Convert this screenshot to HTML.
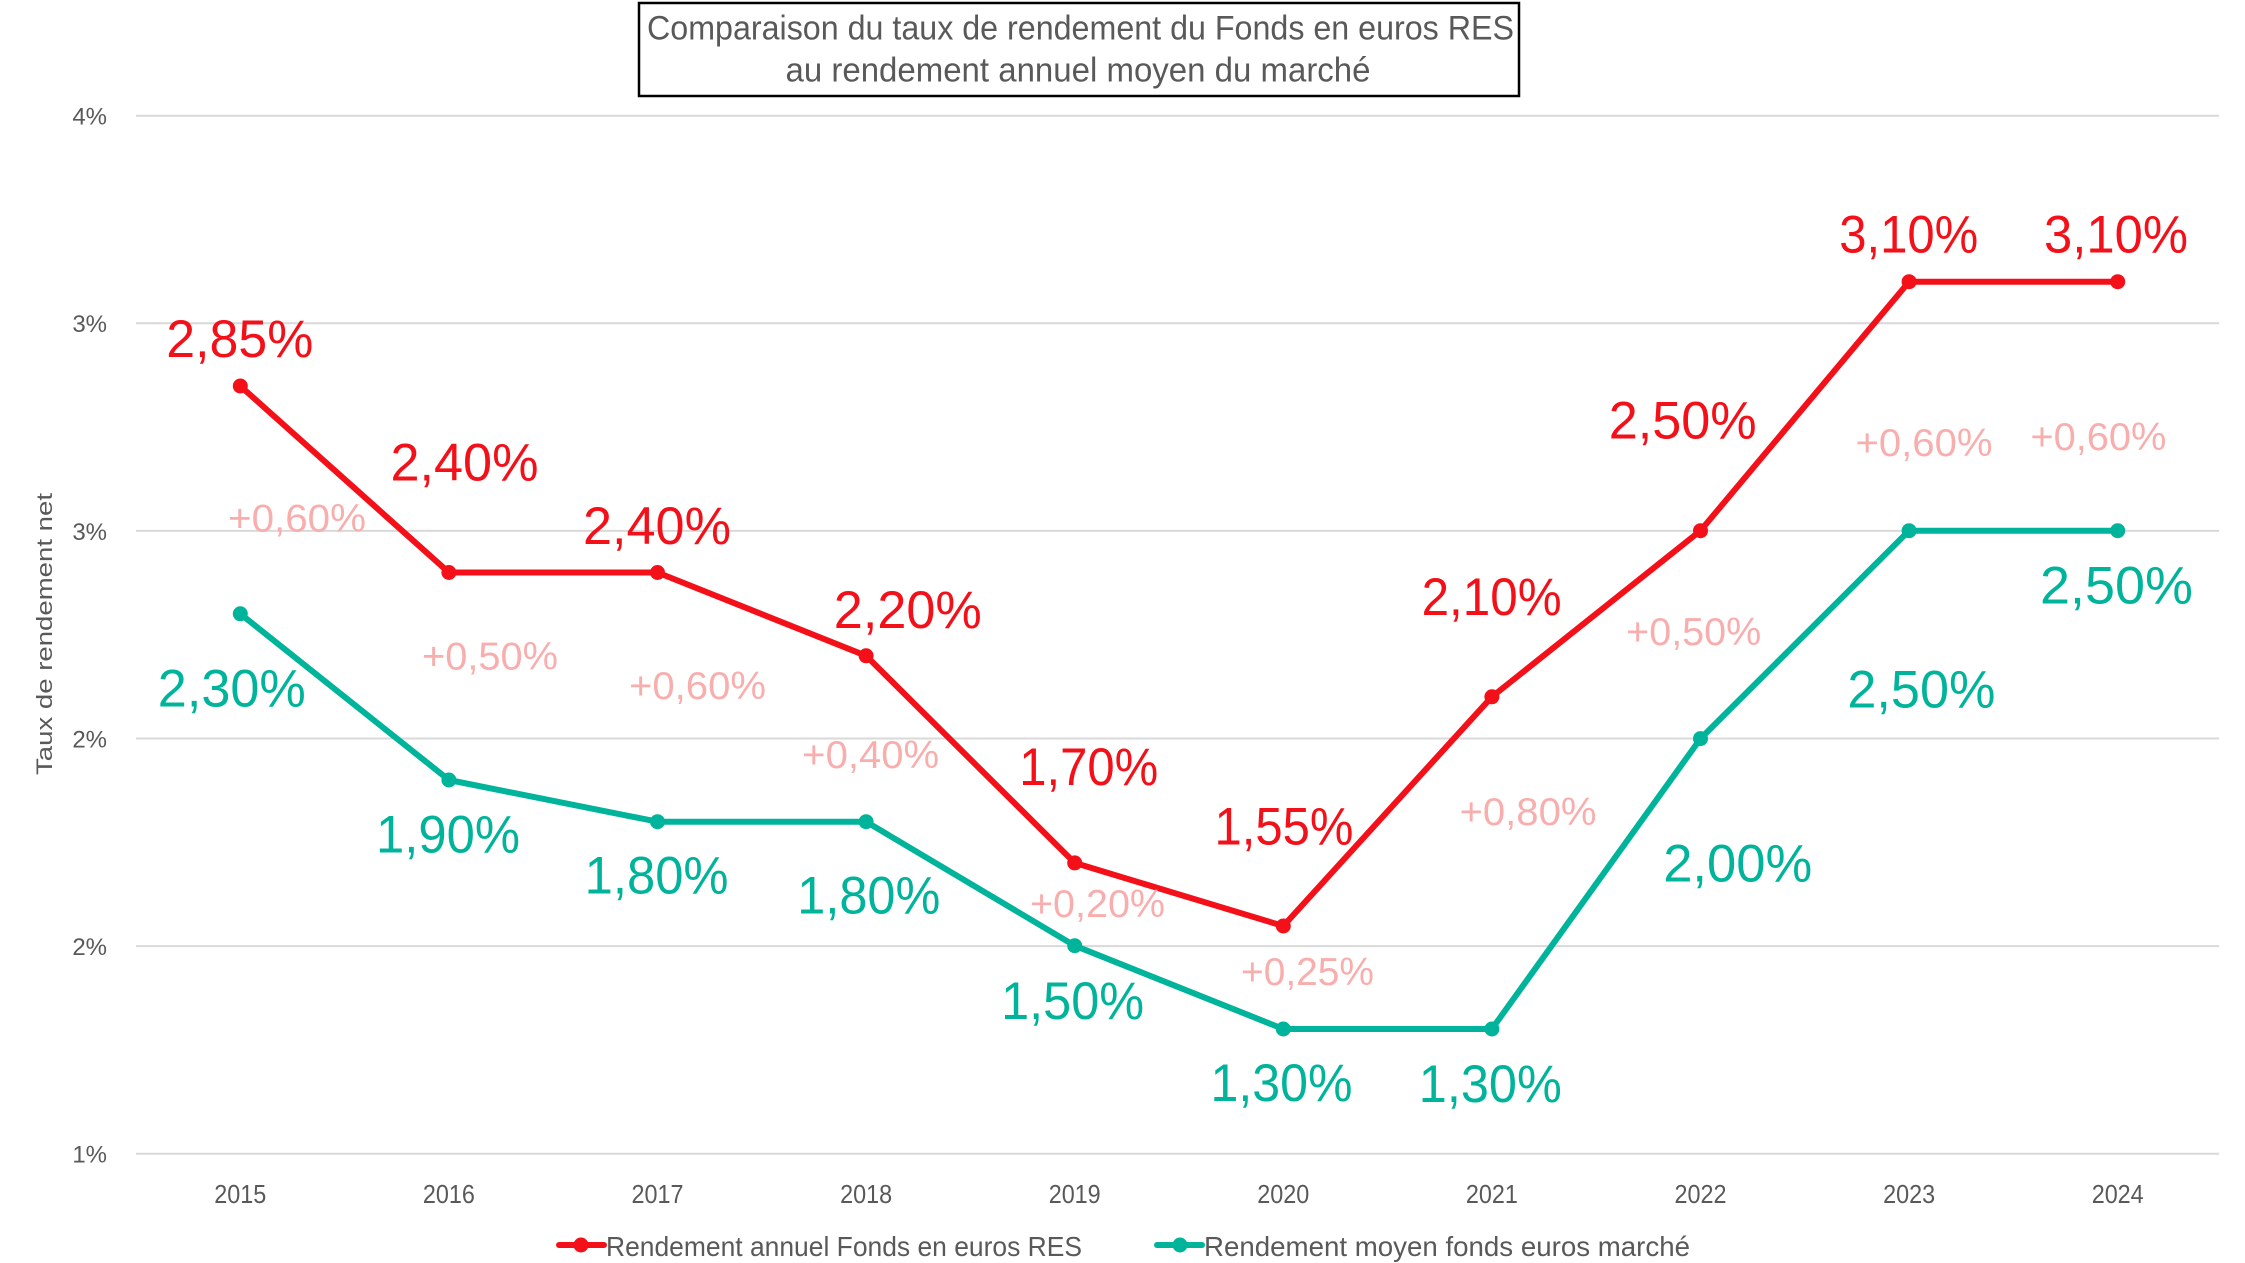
<!DOCTYPE html>
<html>
<head>
<meta charset="utf-8">
<style>
html,body{margin:0;padding:0;background:#fff;}
svg{display:block;}
text{font-family:"Liberation Sans",sans-serif;}
</style>
</head>
<body>
<svg width="2245" height="1263" viewBox="0 0 2245 1263" xmlns="http://www.w3.org/2000/svg">
<rect x="0" y="0" width="2245" height="1263" fill="#fff"/>

<!-- Title box -->
<rect x="639" y="3" width="880" height="93" fill="#fff" stroke="#000" stroke-width="2.5"/>
<text x="1080.5" y="39.5" font-size="34" fill="#595959" text-anchor="middle" textLength="867" lengthAdjust="spacingAndGlyphs">Comparaison du taux de rendement du Fonds en euros RES</text>
<text x="1078" y="81.5" font-size="34" fill="#595959" text-anchor="middle" textLength="585" lengthAdjust="spacingAndGlyphs">au rendement annuel moyen du marché</text>

<!-- Gridlines -->
<g stroke="#d9d9d9" stroke-width="2">
<line x1="136" y1="115.7" x2="2219" y2="115.7"/>
<line x1="136" y1="323.3" x2="2219" y2="323.3"/>
<line x1="136" y1="530.9" x2="2219" y2="530.9"/>
<line x1="136" y1="738.5" x2="2219" y2="738.5"/>
<line x1="136" y1="946.1" x2="2219" y2="946.1"/>
<line x1="136" y1="1153.7" x2="2219" y2="1153.7"/>
</g>

<!-- Y labels -->
<g font-size="24" fill="#595959" text-anchor="end">
<text x="107" y="124.5">4%</text>
<text x="107" y="332">3%</text>
<text x="107" y="540">3%</text>
<text x="107" y="747.5">2%</text>
<text x="107" y="955">2%</text>
<text x="107" y="1162.5">1%</text>
</g>

<!-- Y axis title -->
<text transform="translate(52,634) rotate(-90)" x="0" y="0" font-size="22" fill="#595959" text-anchor="middle" textLength="282" lengthAdjust="spacingAndGlyphs">Taux de rendement net</text>

<!-- X labels -->
<g font-size="26" fill="#595959" text-anchor="middle">
<text x="240.3" y="1203" textLength="52" lengthAdjust="spacingAndGlyphs">2015</text>
<text x="448.9" y="1203" textLength="52" lengthAdjust="spacingAndGlyphs">2016</text>
<text x="657.5" y="1203" textLength="52" lengthAdjust="spacingAndGlyphs">2017</text>
<text x="866.1" y="1203" textLength="52" lengthAdjust="spacingAndGlyphs">2018</text>
<text x="1074.7" y="1203" textLength="52" lengthAdjust="spacingAndGlyphs">2019</text>
<text x="1283.3" y="1203" textLength="52" lengthAdjust="spacingAndGlyphs">2020</text>
<text x="1491.9" y="1203" textLength="52" lengthAdjust="spacingAndGlyphs">2021</text>
<text x="1700.5" y="1203" textLength="52" lengthAdjust="spacingAndGlyphs">2022</text>
<text x="1909.1" y="1203" textLength="52" lengthAdjust="spacingAndGlyphs">2023</text>
<text x="2117.7" y="1203" textLength="52" lengthAdjust="spacingAndGlyphs">2024</text>
</g>

<!-- Teal series -->
<polyline fill="none" stroke="#00b49b" stroke-width="6" stroke-linejoin="round" stroke-linecap="round"
 points="240.3,613.8 448.9,780 657.5,821.7 866.1,821.7 1074.7,945.7 1283.3,1029 1491.9,1029 1700.5,738.6 1909.1,530.7 2117.7,530.7"/>
<g fill="#00b49b">
<circle cx="240.3" cy="613.8" r="7.5"/>
<circle cx="448.9" cy="780" r="7.5"/>
<circle cx="657.5" cy="821.7" r="7.5"/>
<circle cx="866.1" cy="821.7" r="7.5"/>
<circle cx="1074.7" cy="945.7" r="7.5"/>
<circle cx="1283.3" cy="1029" r="7.5"/>
<circle cx="1491.9" cy="1029" r="7.5"/>
<circle cx="1700.5" cy="738.6" r="7.5"/>
<circle cx="1909.1" cy="530.7" r="7.5"/>
<circle cx="2117.7" cy="530.7" r="7.5"/>
</g>

<!-- Red series -->
<polyline fill="none" stroke="#f31019" stroke-width="6" stroke-linejoin="round" stroke-linecap="round"
 points="240.3,386 448.9,572.5 657.5,572.5 866.1,655.8 1074.7,862.9 1283.3,926 1491.9,696.8 1700.5,530.7 1909.1,281.7 2117.7,281.7"/>
<g fill="#f31019">
<circle cx="240.3" cy="386" r="7.5"/>
<circle cx="448.9" cy="572.5" r="7.5"/>
<circle cx="657.5" cy="572.5" r="7.5"/>
<circle cx="866.1" cy="655.8" r="7.5"/>
<circle cx="1074.7" cy="862.9" r="7.5"/>
<circle cx="1283.3" cy="926" r="7.5"/>
<circle cx="1491.9" cy="696.8" r="7.5"/>
<circle cx="1700.5" cy="530.7" r="7.5"/>
<circle cx="1909.1" cy="281.7" r="7.5"/>
<circle cx="2117.7" cy="281.7" r="7.5"/>
</g>

<!-- Pink difference labels -->
<g font-size="39" fill="#f9aeae" text-anchor="middle">
<text x="297" y="531.3" textLength="138" lengthAdjust="spacingAndGlyphs">+0,60%</text>
<text x="490" y="669.3" textLength="136" lengthAdjust="spacingAndGlyphs">+0,50%</text>
<text x="697.5" y="698.8" textLength="137" lengthAdjust="spacingAndGlyphs">+0,60%</text>
<text x="870.7" y="767.9" textLength="137" lengthAdjust="spacingAndGlyphs">+0,40%</text>
<text x="1097.5" y="917" textLength="135" lengthAdjust="spacingAndGlyphs">+0,20%</text>
<text x="1307.5" y="985" textLength="133" lengthAdjust="spacingAndGlyphs">+0,25%</text>
<text x="1528" y="824.8" textLength="137" lengthAdjust="spacingAndGlyphs">+0,80%</text>
<text x="1693.7" y="645" textLength="135" lengthAdjust="spacingAndGlyphs">+0,50%</text>
<text x="1924" y="456" textLength="137" lengthAdjust="spacingAndGlyphs">+0,60%</text>
<text x="2098.4" y="450" textLength="136" lengthAdjust="spacingAndGlyphs">+0,60%</text>
</g>

<!-- Red value labels -->
<g font-size="53" fill="#f31019" text-anchor="middle">
<text x="239.8" y="357" textLength="147" lengthAdjust="spacingAndGlyphs">2,85%</text>
<text x="464.5" y="480.3" textLength="148" lengthAdjust="spacingAndGlyphs">2,40%</text>
<text x="657" y="543.9" textLength="148" lengthAdjust="spacingAndGlyphs">2,40%</text>
<text x="907.8" y="627.9" textLength="148" lengthAdjust="spacingAndGlyphs">2,20%</text>
<text x="1088.7" y="785" textLength="139" lengthAdjust="spacingAndGlyphs">1,70%</text>
<text x="1284" y="844.6" textLength="139" lengthAdjust="spacingAndGlyphs">1,55%</text>
<text x="1491.6" y="615" textLength="140" lengthAdjust="spacingAndGlyphs">2,10%</text>
<text x="1682.7" y="438.3" textLength="148" lengthAdjust="spacingAndGlyphs">2,50%</text>
<text x="1908.7" y="252.7" textLength="139" lengthAdjust="spacingAndGlyphs">3,10%</text>
<text x="2116" y="252.7" textLength="144" lengthAdjust="spacingAndGlyphs">3,10%</text>
</g>

<!-- Teal value labels -->
<g font-size="53" fill="#00b49b" text-anchor="middle">
<text x="231.8" y="706.3" textLength="148" lengthAdjust="spacingAndGlyphs">2,30%</text>
<text x="448" y="852.4" textLength="144" lengthAdjust="spacingAndGlyphs">1,90%</text>
<text x="656.6" y="893.6" textLength="144" lengthAdjust="spacingAndGlyphs">1,80%</text>
<text x="868.8" y="913.6" textLength="143" lengthAdjust="spacingAndGlyphs">1,80%</text>
<text x="1072.6" y="1019" textLength="143" lengthAdjust="spacingAndGlyphs">1,50%</text>
<text x="1281.5" y="1101" textLength="142" lengthAdjust="spacingAndGlyphs">1,30%</text>
<text x="1490.3" y="1102" textLength="143" lengthAdjust="spacingAndGlyphs">1,30%</text>
<text x="1737.7" y="881.6" textLength="149" lengthAdjust="spacingAndGlyphs">2,00%</text>
<text x="1921.4" y="707.5" textLength="148" lengthAdjust="spacingAndGlyphs">2,50%</text>
<text x="2116.5" y="603.3" textLength="153" lengthAdjust="spacingAndGlyphs">2,50%</text>
</g>

<!-- Legend -->
<line x1="559" y1="1245" x2="604" y2="1245" stroke="#f31019" stroke-width="6" stroke-linecap="round"/>
<circle cx="581" cy="1245" r="7.5" fill="#f31019"/>
<text x="606" y="1256" font-size="28" fill="#595959" textLength="476" lengthAdjust="spacingAndGlyphs">Rendement annuel Fonds en euros RES</text>
<line x1="1157" y1="1245" x2="1202" y2="1245" stroke="#00b49b" stroke-width="6" stroke-linecap="round"/>
<circle cx="1180" cy="1245" r="7.5" fill="#00b49b"/>
<text x="1204" y="1256" font-size="28" fill="#595959" textLength="486" lengthAdjust="spacingAndGlyphs">Rendement moyen fonds euros marché</text>
</svg>
</body>
</html>
